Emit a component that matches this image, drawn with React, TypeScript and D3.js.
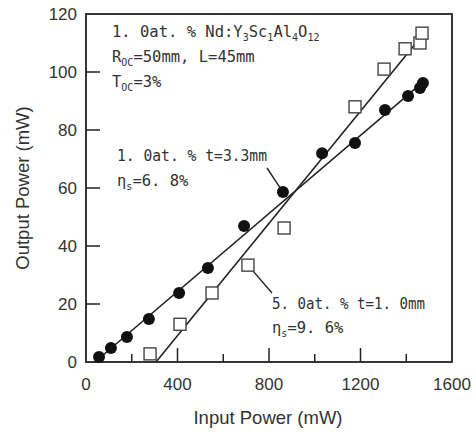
import React from "react";
import { scaleLinear, line } from "d3";

// 1.0at.% t=3.3mm (filled circles)
const inputA = [57, 109, 179, 275, 407, 533, 691, 861, 1032, 1176, 1307, 1408, 1460, 1473];
const outputA = [1.7, 4.8, 8.6, 14.8, 23.8, 32.4, 46.9, 58.6, 72, 75.5, 86.9, 91.7, 94.5, 96.2];
// 5.0at.% t=1.0mm (open squares)
const inputB = [280, 411, 551, 708, 866, 1176, 1303, 1395, 1460, 1469];
const outputB = [2.8, 13, 23.8, 33.4, 46.2, 88, 101, 108, 110, 113.4];
// linear fits
const fitA: [number, number][] = [[39, 0], [1473, 96.5]];
const fitB: [number, number][] = [[306, 0], [1482, 113.8]];

const xTicks = [0, 400, 800, 1200, 1600];
const xMinor = [200, 600, 1000, 1400];
const yTicks = [0, 20, 40, 60, 80, 100, 120];

const W = 476, H = 432;
const m = { left: 86, right: 452, top: 14, bottom: 362 };
const ink = "#222";
const mono = "'DejaVu Sans Mono', 'Liberation Mono', monospace";
const sans = "'Liberation Sans', Arial, sans-serif";

export default function App() {
  const x = scaleLinear().domain([0, 1600]).range([m.left, m.right]);
  const y = scaleLinear().domain([0, 120]).range([m.bottom, m.top]);
  const path = line<[number, number]>().x(d => x(d[0])).y(d => y(d[1]));

  const sub = (t: string) => <tspan fontSize={10} dy={4}>{t}</tspan>;
  const up = (t: string) => <tspan dy={-4}>{t}</tspan>;

  return (
    <svg width={W} height={H} style={{ position: "absolute", left: 0, top: 0, background: "#fff" }}>
      {/* frame */}
      <rect x={m.left} y={m.top} width={m.right - m.left} height={m.bottom - m.top}
        fill="none" stroke={ink} strokeWidth={1.8} />

      {/* y ticks */}
      {yTicks.map(t => (
        <g key={"y" + t}>
          {t > 0 && t < 120 && <line x1={m.left} x2={m.left + 14} y1={y(t)} y2={y(t)} stroke={ink} strokeWidth={1.5} />}
          <text x={77} y={y(t) + 6} textAnchor="end" fontFamily={sans} fontSize={17} fill="#333">{t}</text>
        </g>
      ))}

      {/* x ticks */}
      {xTicks.map(t => (
        <g key={"x" + t}>
          {t > 0 && t < 1600 && <line x1={x(t)} x2={x(t)} y1={m.bottom} y2={m.bottom - 14} stroke={ink} strokeWidth={1.5} />}
          <text x={x(t)} y={390} textAnchor="middle" fontFamily={sans} fontSize={17} fill="#333">{t}</text>
        </g>
      ))}
      {xMinor.map(t => (
        <line key={"xm" + t} x1={x(t)} x2={x(t)} y1={m.bottom} y2={m.bottom - 8} stroke={ink} strokeWidth={1.5} />
      ))}

      {/* axis titles */}
      <text x={268} y={424} textAnchor="middle" fontFamily={sans} fontSize={18.5} fill="#333">Input Power (mW)</text>
      <text transform={`translate(29,188) rotate(-90)`} textAnchor="middle" fontFamily={sans} fontSize={18.5} fill="#333">Output Power (mW)</text>

      {/* fit lines */}
      <path d={path(fitA) || ""} fill="none" stroke={ink} strokeWidth={1.6} />
      <path d={path(fitB) || ""} fill="none" stroke={ink} strokeWidth={1.6} />

      {/* pointer lines */}
      <line x1={267} y1={168} x2={x(861)} y2={y(58.6)} stroke={ink} strokeWidth={1.4} />
      <line x1={x(708)} y1={y(33.4)} x2={272} y2={293} stroke={ink} strokeWidth={1.4} />

      {/* data */}
      {inputA.map((v, i) => (
        <circle key={"a" + i} cx={x(v)} cy={y(outputA[i])} r={6} fill="#111" />
      ))}
      {inputB.map((v, i) => (
        <rect key={"b" + i} x={x(v) - 6} y={y(outputB[i]) - 6} width={12} height={12}
          fill="#fff" stroke="#444" strokeWidth={1.4} />
      ))}

      {/* annotations */}
      <g fontFamily={mono} fontSize={15.5} fill="#333">
        <text x={112} y={37}>
          1. 0at. % Nd:Y{sub("3")}{up("Sc")}{sub("1")}{up("Al")}{sub("4")}{up("O")}{sub("12")}
        </text>
        <text x={112} y={62}>
          R{sub("OC")}{up("=50mm, L=45mm")}
        </text>
        <text x={112} y={87}>
          T{sub("OC")}{up("=3%")}
        </text>
        <text x={117} y={161} textLength={150} lengthAdjust="spacingAndGlyphs">1. 0at. % t=3.3mm</text>
        <text x={117} y={186}>
          η{sub("s")}{up("=6. 8%")}
        </text>
        <text x={272} y={309} textLength={153} lengthAdjust="spacingAndGlyphs">5. 0at. % t=1. 0mm</text>
        <text x={272} y={333}>
          η{sub("s")}{up("=9. 6%")}
        </text>
      </g>
    </svg>
  );
}
